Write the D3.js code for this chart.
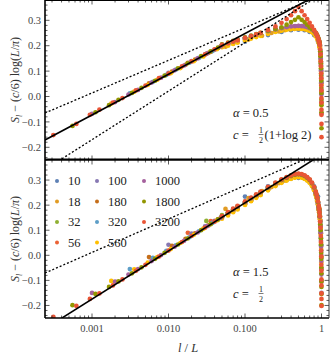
<!DOCTYPE html>
<html><head><meta charset="utf-8">
<script src="https://cdn.jsdelivr.net/npm/d3@7"></script>
<style>html,body{margin:0;padding:0;background:#fff;} svg{display:block;}</style>
</head><body>
<svg id="c" width="332" height="357"></svg>
<script>
const sizes = [10,18,32,56,100,180,320,560,1000,1800,3200];
const colors = ["#5E81B5","#E19C24","#8FB032","#EB6235","#8778B3","#C56E1A","#5D9EC7","#FFBF00","#A5609D","#929600","#E95536"];
const xTicks = [0.001,0.01,0.1,1];
const xTickLabels = ["0.001","0.010","0.100","1"];
const yTicks = [-0.2,-0.1,0,0.1,0.2,0.3];
const yTickLabels = ["\u22120.2","\u22120.1","0.0","0.1","0.2","0.3"];

// shared l/L grid of the dense middle part
const bandX = [0.05,0.06,0.07,0.08,0.1,0.12,0.14,0.16,0.2,0.25,0.3,0.35,0.4,0.45,0.5,0.55,0.6,0.65,0.7,0.75,0.8,0.84,0.86,0.88,0.9,0.92,0.93,0.94,0.95];

// ---- top panel (alpha = 0.5) ----
const tBand32   = [0.197,0.203,0.209,0.215,0.224,0.231,0.237,0.242,0.250,0.257,0.262,0.266,0.269,0.270,0.271,0.270,0.269,0.266,0.262,0.257,0.250,0.242,0.237,0.231,0.224,0.215,0.209,0.203,0.196];
const tBand56   = [0.199,0.205,0.212,0.217,0.226,0.233,0.239,0.244,0.252,0.259,0.264,0.268,0.271,0.272,0.273,0.272,0.271,0.268,0.264,0.259,0.252,0.244,0.239,0.233,0.226,0.217,0.212,0.205,0.198];
const tBand100  = [0.201,0.207,0.214,0.220,0.228,0.235,0.241,0.246,0.254,0.261,0.266,0.270,0.273,0.274,0.275,0.274,0.273,0.270,0.266,0.261,0.254,0.246,0.241,0.235,0.228,0.220,0.214,0.207,0.201];
const tBand180  = [0.202,0.209,0.216,0.221,0.230,0.237,0.243,0.248,0.256,0.263,0.268,0.272,0.275,0.276,0.277,0.276,0.275,0.272,0.268,0.263,0.256,0.248,0.243,0.237,0.230,0.221,0.216,0.209,0.202];
const tBand320  = [0.201,0.208,0.215,0.220,0.229,0.236,0.242,0.247,0.255,0.262,0.267,0.271,0.274,0.275,0.276,0.275,0.274,0.271,0.267,0.262,0.255,0.247,0.242,0.236,0.229,0.220,0.215,0.208,0.201];
const tBand560  = [0.194,0.200,0.207,0.212,0.221,0.228,0.234,0.239,0.247,0.254,0.259,0.263,0.266,0.267,0.268,0.267,0.266,0.263,0.259,0.254,0.247,0.239,0.234,0.228,0.221,0.212,0.207,0.200,0.193];
const tBand1000 = [0.203,0.210,0.217,0.222,0.231,0.238,0.244,0.249,0.257,0.264,0.269,0.273,0.276,0.277,0.278,0.277,0.276,0.273,0.269,0.264,0.257,0.249,0.244,0.238,0.231,0.222,0.217,0.210,0.203];
const tBand1800 = [0.205,0.212,0.219,0.224,0.233,0.240,0.246,0.251,0.259,0.266,0.272,0.283,0.293,0.302,0.312,0.302,0.293,0.283,0.272,0.266,0.259,0.251,0.246,0.240,0.233,0.224,0.219,0.212,0.205];
const tBand3200 = [0.203,0.210,0.217,0.222,0.231,0.238,0.245,0.251,0.262,0.276,0.290,0.305,0.320,0.336,0.352,0.336,0.320,0.305,0.290,0.276,0.262,0.251,0.245,0.238,0.231,0.222,0.217,0.210,0.203];

const tEdge10 = [[0.1,0.216],[0.2,0.242],[0.3,0.254],[0.4,0.261],[0.5,0.263],[0.6,0.261],[0.7,0.254],[0.8,0.242],[0.9,0.216]];
const tEdge18 = [[0.0556,0.196],[0.111,0.224],[0.167,0.239],[0.222,0.250],[0.278,0.256],[0.333,0.261],[0.389,0.264],[0.444,0.266],[0.5,0.267],[0.556,0.266],[0.611,0.264],[0.667,0.261],[0.722,0.256],[0.778,0.250],[0.833,0.239],[0.889,0.224],[0.944,0.196]];
const tEdge32 = [[0.03125,0.168],[0.96875,0.168]];
const tEdge56 = [[0.0179,0.133],[0.0357,0.176],[0.9643,0.176],[0.9821,0.133]];
const tEdge100 = [[0.01,0.093],[0.02,0.139],[0.03,0.165],[0.04,0.184],[0.96,0.184],[0.97,0.165],[0.98,0.139],[0.99,0.093]];
const tEdge180 = [[0.00556,0.052],[0.0111,0.098],[0.0167,0.125],[0.0222,0.145],[0.0333,0.172],[0.0444,0.191],[0.9556,0.191],[0.9667,0.172],[0.9778,0.145],[0.9833,0.125],[0.9889,0.098],[0.99444,0.052]];
const tEdge320 = [[0.003125,0.012],[0.00625,0.058],[0.009375,0.085],[0.0125,0.106],[0.01875,0.133],[0.025,0.152],[0.0375,0.179],[0.9625,0.179],[0.975,0.152],[0.98125,0.133],[0.9875,0.106],[0.99063,0.085],[0.99375,0.058],[0.99688,0.012]];
const tEdge560 = [[0.001786,-0.028],[0.00357,0.019],[0.00536,0.046],[0.00714,0.066],[0.0107,0.092],[0.0143,0.112],[0.0214,0.139],[0.0286,0.158],[0.0429,0.186],[0.9714,0.158],[0.9786,0.139],[0.9857,0.112],[0.9893,0.092],[0.99286,0.066],[0.99464,0.046],[0.99643,0.019],[0.99821,-0.028]];
const tEdge1000 = [[0.001,-0.068],[0.002,-0.022],[0.003,0.008],[0.004,0.026],[0.006,0.055],[0.008,0.074],[0.012,0.103],[0.016,0.122],[0.024,0.150],[0.032,0.170],[0.048,0.197],[0.968,0.170],[0.976,0.150],[0.984,0.122],[0.988,0.103],[0.992,0.074],[0.994,0.055],[0.996,0.026],[0.997,0.008],[0.998,-0.022],[0.999,-0.068]];
const tEdge1800 = [[0.000556,-0.116],[0.00111,-0.062],[0.00167,-0.034],[0.00222,-0.013],[0.00333,0.014],[0.00444,0.034],[0.00667,0.062],[0.00889,0.082],[0.0133,0.111],[0.0178,0.131],[0.0267,0.159],[0.0356,0.178],[0.0444,0.193],[0.9644,0.178],[0.9733,0.159],[0.9822,0.131],[0.9867,0.111],[0.99111,0.082],[0.99333,0.062],[0.99556,0.034],[0.99667,0.014],[0.99778,-0.013],[0.99833,-0.034],[0.99889,-0.062],[0.99944,-0.125]];
const tEdge3200 = [[0.0003125,-0.152],[0.000625,-0.108],[0.0009375,-0.072],[0.00125,-0.052],[0.001875,-0.024],[0.0025,-0.006],[0.00375,0.024],[0.005,0.043],[0.0075,0.072],[0.01,0.090],[0.015,0.119],[0.02,0.138],[0.03,0.166],[0.04,0.186],[0.96,0.186],[0.97,0.166],[0.98,0.138],[0.985,0.119],[0.99,0.090],[0.9925,0.072],[0.995,0.043],[0.99625,0.024],[0.9975,-0.006],[0.99813,-0.024],[0.99875,-0.052],[0.99906,-0.072],[0.99938,-0.108],[0.99969,-0.160]];

const tSolid = [[2.43e-4,-0.171],[1.253,0.424]];
const tDotUp = [[2.43e-4,-0.065],[1.253,0.412]];
const tDotLow = [[2.43e-4,-0.2875],[1.253,0.4226]];

// ---- bottom panel (alpha = 1.5) ----
const bBand32   = [0.160,0.170,0.178,0.187,0.204,0.218,0.231,0.242,0.261,0.278,0.291,0.300,0.307,0.312,0.314,0.312,0.307,0.300,0.291,0.278,0.261,0.242,0.231,0.218,0.204,0.187,0.178,0.170,0.160];
const bBand56   = [0.155,0.168,0.178,0.188,0.205,0.220,0.233,0.244,0.263,0.280,0.293,0.302,0.309,0.314,0.316,0.314,0.309,0.302,0.293,0.280,0.263,0.244,0.233,0.220,0.205,0.188,0.178,0.168,0.155];
const bBand100  = [0.152,0.166,0.179,0.190,0.207,0.222,0.235,0.246,0.265,0.282,0.295,0.304,0.311,0.316,0.318,0.316,0.311,0.304,0.295,0.282,0.265,0.246,0.235,0.222,0.207,0.190,0.179,0.166,0.152];
const bBand180  = [0.153,0.167,0.180,0.191,0.209,0.224,0.237,0.248,0.267,0.284,0.297,0.306,0.313,0.318,0.320,0.318,0.313,0.306,0.297,0.284,0.267,0.248,0.237,0.224,0.209,0.191,0.180,0.167,0.153];
const bBand320  = [0.154,0.169,0.182,0.193,0.211,0.226,0.239,0.250,0.269,0.286,0.299,0.308,0.315,0.320,0.322,0.320,0.315,0.308,0.299,0.286,0.269,0.250,0.239,0.226,0.211,0.193,0.182,0.169,0.154];
const bBand560  = [0.146,0.159,0.172,0.183,0.201,0.216,0.229,0.240,0.259,0.276,0.289,0.298,0.305,0.310,0.312,0.310,0.305,0.298,0.289,0.276,0.259,0.240,0.229,0.216,0.201,0.183,0.172,0.159,0.146];
const bBand1000 = [0.154,0.170,0.183,0.194,0.212,0.227,0.240,0.251,0.270,0.287,0.300,0.309,0.316,0.321,0.323,0.321,0.316,0.309,0.300,0.287,0.270,0.251,0.240,0.227,0.212,0.194,0.183,0.170,0.154];
const bBand1800 = [0.155,0.171,0.184,0.195,0.213,0.228,0.241,0.252,0.271,0.288,0.301,0.310,0.317,0.322,0.324,0.322,0.317,0.310,0.301,0.288,0.271,0.252,0.241,0.228,0.213,0.195,0.184,0.171,0.155];
const bBand3200 = [0.156,0.172,0.186,0.197,0.215,0.230,0.243,0.254,0.273,0.290,0.303,0.312,0.319,0.324,0.326,0.324,0.319,0.312,0.303,0.290,0.273,0.254,0.243,0.230,0.215,0.197,0.186,0.172,0.156];

const bEdge10 = [[0.1,0.234],[0.2,0.275],[0.3,0.295],[0.4,0.306],[0.5,0.309],[0.6,0.306],[0.7,0.295],[0.8,0.275],[0.9,0.234]];
const bEdge18 = [[0.0556,0.185],[0.111,0.228],[0.167,0.256],[0.222,0.272],[0.278,0.288],[0.333,0.298],[0.389,0.306],[0.444,0.311],[0.5,0.313],[0.556,0.311],[0.611,0.306],[0.667,0.298],[0.722,0.288],[0.778,0.272],[0.833,0.256],[0.889,0.228],[0.944,0.185]];
const bEdge32 = [[0.03125,0.137],[0.96875,0.137]];
const bEdge56 = [[0.0179,0.090],[0.0357,0.136],[0.9643,0.136],[0.9821,0.090]];
const bEdge100 = [[0.01,0.042],[0.02,0.087],[0.03,0.115],[0.04,0.137],[0.96,0.137],[0.97,0.115],[0.98,0.087],[0.99,0.042]];
const bEdge180 = [[0.00556,-0.007],[0.0111,0.038],[0.0167,0.066],[0.0222,0.088],[0.0333,0.119],[0.0444,0.143],[0.9556,0.143],[0.9667,0.119],[0.9778,0.088],[0.9833,0.066],[0.9889,0.038],[0.99444,-0.007]];
const bEdge320 = [[0.003125,-0.055],[0.00625,-0.010],[0.009375,0.018],[0.0125,0.040],[0.01875,0.072],[0.025,0.096],[0.0375,0.129],[0.9625,0.129],[0.975,0.096],[0.98125,0.072],[0.9875,0.040],[0.99063,0.018],[0.99375,-0.010],[0.99688,-0.055]];
const bEdge560 = [[0.001786,-0.102],[0.00357,-0.056],[0.00536,-0.029],[0.00714,-0.007],[0.0107,0.025],[0.0143,0.049],[0.0214,0.082],[0.0286,0.106],[0.0429,0.139],[0.9714,0.106],[0.9786,0.082],[0.9857,0.049],[0.9893,0.025],[0.99286,-0.007],[0.99464,-0.029],[0.99643,-0.056],[0.99821,-0.102]];
const bEdge1000 = [[0.001,-0.150],[0.002,-0.105],[0.003,-0.077],[0.004,-0.055],[0.006,-0.023],[0.008,0.001],[0.012,0.034],[0.016,0.058],[0.024,0.091],[0.032,0.116],[0.048,0.149],[0.968,0.116],[0.976,0.091],[0.984,0.058],[0.988,0.034],[0.992,0.001],[0.994,-0.023],[0.996,-0.055],[0.997,-0.077],[0.998,-0.105],[0.999,-0.150]];
const bEdge1800 = [[0.000556,-0.199],[0.00111,-0.154],[0.00167,-0.126],[0.00222,-0.104],[0.00333,-0.072],[0.00444,-0.048],[0.00667,-0.014],[0.00889,0.010],[0.0133,0.043],[0.0178,0.067],[0.0267,0.100],[0.0356,0.124],[0.0444,0.143],[0.9644,0.124],[0.9733,0.100],[0.9822,0.067],[0.9867,0.043],[0.99111,0.010],[0.99333,-0.014],[0.99556,-0.048],[0.99667,-0.072],[0.99778,-0.104],[0.99833,-0.126],[0.99889,-0.154],[0.99944,-0.199]];
const bEdge3200 = [[0.0003125,-0.245],[0.000625,-0.202],[0.0009375,-0.174],[0.00125,-0.152],[0.001875,-0.120],[0.0025,-0.096],[0.00375,-0.062],[0.005,-0.038],[0.0075,-0.005],[0.01,0.019],[0.015,0.053],[0.02,0.077],[0.03,0.110],[0.04,0.134],[0.96,0.134],[0.97,0.110],[0.98,0.077],[0.985,0.053],[0.99,0.019],[0.9925,-0.005],[0.995,-0.038],[0.99625,-0.062],[0.9975,-0.096],[0.99813,-0.120],[0.99875,-0.152],[0.99906,-0.174],[0.99938,-0.202]];

const bSolid = [[2.43e-4,-0.2926],[1.253,0.420]];
const bDot = [[2.43e-4,-0.0706],[1.253,0.425]];

// ---------------- drawing ----------------
const svg = d3.select("#c");
const L = 45, R = 329;
const x = d3.scaleLog().domain([2.43e-4, 1.253]).range([L, R]);
const panels = [
  {top:0, bot:160, alpha:"0.5", edges:[tEdge10,tEdge18,tEdge32,tEdge56,tEdge100,tEdge180,tEdge320,tEdge560,tEdge1000,tEdge1800,tEdge3200],
   bands:[null,null,tBand32,tBand56,tBand100,tBand180,tBand320,tBand560,tBand1000,tBand1800,tBand3200],
   solid:tSolid, dots:[tDotUp,tDotLow], labelY:117, xlabels:false},
  {top:160, bot:318, alpha:"1.5", edges:[bEdge10,bEdge18,bEdge32,bEdge56,bEdge100,bEdge180,bEdge320,bEdge560,bEdge1000,bEdge1800,bEdge3200],
   bands:[null,null,bBand32,bBand56,bBand100,bBand180,bBand320,bBand560,bBand1000,bBand1800,bBand3200],
   solid:bSolid, dots:[bDot], labelY:276, xlabels:true}
];
const serif = "'Liberation Serif','DejaVu Serif',serif";

panels.forEach((p, pi) => {
  const y = d3.scaleLinear().domain([-0.25, 0.38]).range([p.bot, p.top]);
  const cid = "clip" + pi;
  svg.append("clipPath").attr("id", cid).append("rect")
    .attr("x", L).attr("y", p.top).attr("width", R - L).attr("height", p.bot - p.top);
  const g = svg.append("g").attr("clip-path", `url(#${cid})`);
  sizes.forEach((s, i) => {
    let pts = p.edges[i].slice();
    if (p.bands[i]) pts = pts.concat(bandX.map((bx, k) => [bx, p.bands[i][k]]));
    g.selectAll(null).data(pts).enter().append("circle")
      .attr("cx", d => x(d[0])).attr("cy", d => y(d[1])).attr("r", 2.35)
      .attr("fill", colors[i]);
  });
  const line = d3.line().x(d => x(d[0])).y(d => y(d[1]));
  p.dots.forEach(dl => g.append("path").attr("d", line(dl)).attr("fill", "none")
    .attr("stroke", "#000").attr("stroke-width", 1.3).attr("stroke-dasharray", "2,2"));
  g.append("path").attr("d", line(p.solid)).attr("fill", "none")
    .attr("stroke", "#000").attr("stroke-width", 1.6);

  // frame ticks
  const tk = svg.append("g").attr("stroke", "#333").attr("stroke-width", 0.8);
  const minorY = d3.range(-24, 39, 2).map(v => v / 100).filter(v => Math.abs(Math.round(v * 10) - v * 10) > 1e-6);
  yTicks.forEach(v => {
    tk.append("line").attr("x1", L).attr("x2", L + 4.5).attr("y1", y(v)).attr("y2", y(v));
    tk.append("line").attr("x1", R).attr("x2", R - 4.5).attr("y1", y(v)).attr("y2", y(v));
  });
  minorY.forEach(v => {
    tk.append("line").attr("x1", L).attr("x2", L + 2.5).attr("y1", y(v)).attr("y2", y(v));
    tk.append("line").attr("x1", R).attr("x2", R - 2.5).attr("y1", y(v)).attr("y2", y(v));
  });
  const minorX = [];
  [1e-4, 1e-3, 1e-2, 1e-1, 1].forEach(dec => { for (let m = 2; m <= 9; m++) { const v = m * dec; if (v > 2.43e-4 && v < 1.253) minorX.push(v); } });
  xTicks.forEach(v => {
    tk.append("line").attr("x1", x(v)).attr("x2", x(v)).attr("y1", p.bot).attr("y2", p.bot - 4.5);
    tk.append("line").attr("x1", x(v)).attr("x2", x(v)).attr("y1", p.top).attr("y2", p.top + 4.5);
  });
  minorX.forEach(v => {
    tk.append("line").attr("x1", x(v)).attr("x2", x(v)).attr("y1", p.bot).attr("y2", p.bot - 2.5);
    tk.append("line").attr("x1", x(v)).attr("x2", x(v)).attr("y1", p.top).attr("y2", p.top + 2.5);
  });

  // y tick labels
  yTicks.forEach((v, k) => {
    svg.append("text").attr("x", L - 4).attr("y", y(v) + 3.6).attr("text-anchor", "end")
      .attr("font-family", serif).attr("font-size", 10.5).attr("fill", "#444").text(yTickLabels[k]);
  });
  if (p.xlabels) {
    xTicks.forEach((v, k) => {
      svg.append("text").attr("x", x(v)).attr("y", p.bot + 14).attr("text-anchor", "middle")
        .attr("font-family", serif).attr("font-size", 10.5).attr("fill", "#444").text(xTickLabels[k]);
    });
  }

  // y axis title
  const yt = svg.append("text").attr("transform", `translate(19,${(p.top + p.bot) / 2}) rotate(-90)`)
    .attr("text-anchor", "middle").attr("font-family", serif).attr("font-size", 12).attr("fill", "#333");
  yt.append("tspan").attr("font-style", "italic").text("S");
  yt.append("tspan").attr("font-style", "italic").attr("font-size", 8).attr("dy", 2.5).text("l");
  yt.append("tspan").attr("dy", -2.5).text(" \u2212 (");
  yt.append("tspan").attr("font-style", "italic").text("c");
  yt.append("tspan").text("/6) log(");
  yt.append("tspan").attr("font-style", "italic").text("L");
  yt.append("tspan").text("/");
  yt.append("tspan").attr("font-style", "italic").text("\u03c0");
  yt.append("tspan").text(")");

  // annotations
  const a = svg.append("text").attr("x", 233).attr("y", p.labelY).attr("font-family", serif)
    .attr("font-size", 12.5).attr("fill", "#222");
  a.append("tspan").attr("font-style", "italic").text("\u03b1");
  a.append("tspan").text(" = " + p.alpha);
  const cy = p.labelY + 22;
  const c = svg.append("text").attr("x", 233).attr("y", cy).attr("font-family", serif)
    .attr("font-size", 12.5).attr("fill", "#222");
  c.append("tspan").attr("font-style", "italic").text("c");
  c.append("tspan").text(" = ");
  const fx = 261;
  svg.append("text").attr("x", fx).attr("y", cy - 6).attr("text-anchor", "middle").attr("font-family", serif).attr("font-size", 8).attr("fill", "#222").text("1");
  svg.append("line").attr("x1", fx - 2.5).attr("x2", fx + 2.5).attr("y1", cy - 4.5).attr("y2", cy - 4.5).attr("stroke", "#222").attr("stroke-width", 0.6);
  svg.append("text").attr("x", fx).attr("y", cy + 3.5).attr("text-anchor", "middle").attr("font-family", serif).attr("font-size", 8).attr("fill", "#222").text("2");
  if (pi === 0) {
    svg.append("text").attr("x", fx + 3.5).attr("y", cy).attr("font-family", serif).attr("font-size", 12.5).attr("fill", "#222").text("(1+log 2)");
  }

  // frame
  const fr = svg.append("g").attr("fill", "none");
  fr.append("line").attr("x1", L).attr("x2", R).attr("y1", p.top + (pi === 0 ? 0.5 : 0)).attr("y2", p.top + (pi === 0 ? 0.5 : 0)).attr("stroke", "#000").attr("stroke-width", pi === 0 ? 1 : 1.5);
  fr.append("line").attr("x1", L).attr("x2", R).attr("y1", p.bot - (pi === 0 ? 0.8 : 0)).attr("y2", p.bot - (pi === 0 ? 0.8 : 0)).attr("stroke", "#000").attr("stroke-width", 1.6);
  fr.append("line").attr("x1", L).attr("x2", L).attr("y1", p.top).attr("y2", p.bot).attr("stroke", "#000").attr("stroke-width", 1.6);
  fr.append("line").attr("x1", R).attr("x2", R).attr("y1", p.top).attr("y2", p.bot).attr("stroke", "#333").attr("stroke-width", 1);
});

// legend
const lg = svg.append("g");
const colX = [57, 97, 144], rowY = [181, 201.5, 222, 242.5];
sizes.forEach((s, i) => {
  const cI = Math.floor(i / 4), rI = i % 4;
  lg.append("circle").attr("cx", colX[cI]).attr("cy", rowY[rI]).attr("r", 2).attr("fill", colors[i]);
  lg.append("text").attr("x", colX[cI] + 11).attr("y", rowY[rI] + 4.3).attr("font-family", serif)
    .attr("font-size", 12.5).attr("fill", "#222").text(s);
});

// x axis title
const xt = svg.append("text").attr("x", 188).attr("y", 352).attr("text-anchor", "middle")
  .attr("font-family", serif).attr("font-size", 12.5).attr("fill", "#333");
xt.append("tspan").attr("font-style", "italic").text("l");
xt.append("tspan").text(" / ");
xt.append("tspan").attr("font-style", "italic").text("L");
</script>
</body></html>
